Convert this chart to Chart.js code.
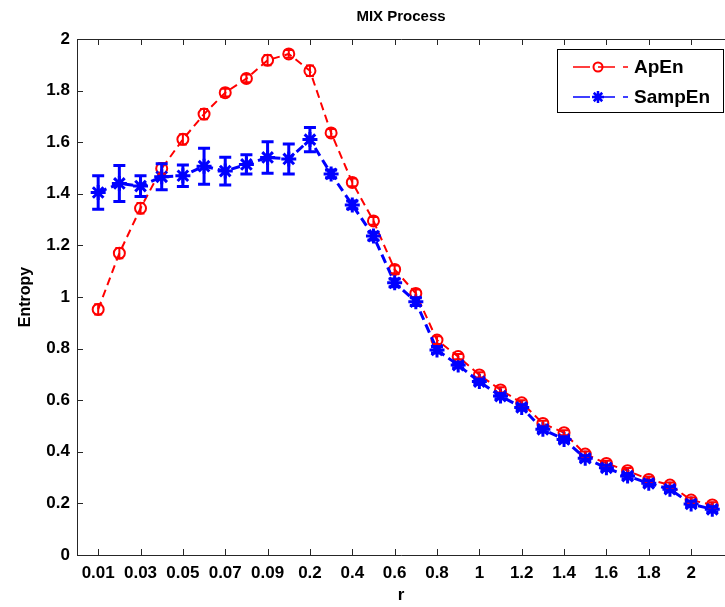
<!DOCTYPE html>
<html>
<head>
<meta charset="utf-8">
<script src="https://cdn.jsdelivr.net/npm/chart.js@4.4.1/dist/chart.umd.min.js"></script>
<style>
  body { margin: 0; background: #fff; }
  canvas { display: block; }
</style>
</head>
<body>
<canvas id="myChart" width="725" height="607"></canvas>
<script>
// ================= Data =================
const categories = ['0.01', '0.02', '0.03', '0.04', '0.05', '0.06', '0.07', '0.08', '0.09', '0.1',
  '0.2', '0.3', '0.4', '0.5', '0.6', '0.7', '0.8', '0.9', '1', '1.1',
  '1.2', '1.3', '1.4', '1.5', '1.6', '1.7', '1.8', '1.9', '2', '2.1'];
const tickIndex = [0, 2, 4, 6, 8, 10, 12, 14, 16, 18, 20, 22, 24, 26, 28];

const apen = [0.952, 1.17, 1.344, 1.498, 1.611, 1.709, 1.792, 1.847, 1.918, 1.942,
  1.877, 1.636, 1.444, 1.295, 1.107, 1.014, 0.833, 0.769, 0.698, 0.64,
  0.59, 0.51, 0.474, 0.391, 0.355, 0.327, 0.293, 0.271, 0.213, 0.194];
const apenErr = [0.02, 0.02, 0.02, 0.02, 0.02, 0.02, 0.015, 0.015, 0.02, 0.015,
  0.02, 0.015, 0.015, 0.015, 0.015, 0.015, 0.015, 0.01, 0.01, 0.01,
  0.01, 0.01, 0.01, 0.01, 0.01, 0.01, 0.01, 0.01, 0.01, 0.01];

const sampen = [1.405, 1.44, 1.43, 1.466, 1.47, 1.507, 1.488, 1.514, 1.541, 1.535,
  1.61, 1.477, 1.357, 1.236, 1.055, 0.982, 0.795, 0.736, 0.672, 0.616,
  0.572, 0.487, 0.448, 0.375, 0.338, 0.306, 0.278, 0.255, 0.198, 0.177];
const sampenErr = [0.065, 0.07, 0.04, 0.05, 0.042, 0.07, 0.054, 0.037, 0.061, 0.058,
  0.047, 0.015, 0.015, 0.015, 0.015, 0.015, 0.012, 0.01, 0.01, 0.01,
  0.01, 0.01, 0.01, 0.01, 0.01, 0.01, 0.01, 0.01, 0.01, 0.01];

const toPoints = arr => arr.map((v, i) => ({ x: i, y: v }));

const FONT = '"Liberation Sans", Arial, sans-serif';
const AXIS = '#262626';

// ================= Extras (frame, ticks, error bars, title, legend) =================
const matlabPlugin = {
  id: 'matlab',
  afterDatasetsDraw(chart) {
    const c = chart.ctx;
    const ys = chart.scales.y;
    const errs = [apenErr, sampenErr];
    c.save();
    chart.data.datasets.forEach((ds, di) => {
      const meta = chart.getDatasetMeta(di);
      c.strokeStyle = ds.borderColor;
      c.lineWidth = di === 0 ? 2 : 3;
      c.setLineDash([]);
      const cap = di === 0 ? 4 : 6;
      meta.data.forEach((pt, i) => {
        const v = ds.data[i].y, e = errs[di][i];
        const x = pt.x;
        const y1 = ys.getPixelForValue(v - e), y2 = ys.getPixelForValue(v + e);
        c.beginPath();
        c.moveTo(x, y1); c.lineTo(x, y2);
        c.moveTo(x - cap, y1); c.lineTo(x + cap, y1);
        c.moveTo(x - cap, y2); c.lineTo(x + cap, y2);
        c.stroke();
      });
    });
    c.restore();
  },
  afterDraw(chart) {
    const c = chart.ctx;
    const a = chart.chartArea;
    const xs = chart.scales.x, ys = chart.scales.y;
    c.save();
    c.strokeStyle = AXIS;
    c.lineWidth = 1;
    c.setLineDash([]);
    // frame
    c.beginPath();
    c.moveTo(a.left + 0.5, a.top + 0.5);
    c.lineTo(a.right, a.top + 0.5);
    c.moveTo(a.left + 0.5, a.top);
    c.lineTo(a.left + 0.5, a.bottom + 0.5);
    c.lineTo(a.right, a.bottom + 0.5);
    c.stroke();
    // inward ticks
    c.beginPath();
    xs.ticks.forEach(t => {
      const x = Math.round(xs.getPixelForValue(t.value)) + 0.5;
      c.moveTo(x, a.bottom); c.lineTo(x, a.bottom - 6);
      c.moveTo(x, a.top); c.lineTo(x, a.top + 6);
    });
    ys.ticks.forEach(t => {
      const y = Math.round(ys.getPixelForValue(t.value)) + 0.5;
      c.moveTo(a.left, y); c.lineTo(a.left + 6, y);
    });
    c.stroke();

    // title
    c.fillStyle = '#000';
    c.font = 'bold 15px ' + FONT;
    c.textAlign = 'center';
    c.textBaseline = 'middle';
    c.fillText('MIX Process', (a.left + a.right) / 2, 17);

    // legend
    const bx = 557, by = 49, bw = 166, bh = 63;
    c.fillStyle = '#fff';
    c.fillRect(bx, by, bw, bh);
    c.strokeStyle = '#000';
    c.strokeRect(bx + 0.5, by + 0.5, bw, bh);
    chart.data.datasets.forEach((ds, di) => {
      const y = by + 18 + di * 30;
      c.strokeStyle = ds.borderColor;
      c.lineWidth = 1.5;
      c.setLineDash([17, 8]);
      c.beginPath();
      c.moveTo(573, y); c.lineTo(628, y);
      c.stroke();
      c.setLineDash([]);
      c.lineWidth = di === 0 ? 2 : 2.5;
      c.beginPath();
      if (di === 0) {
        c.arc(598, y, 4.5, 0, Math.PI * 2);
      } else {
        const r = 6;
        for (let k = 0; k < 4; k++) {
          const ang = k * Math.PI / 4;
          c.moveTo(598 - r * Math.cos(ang), y - r * Math.sin(ang));
          c.lineTo(598 + r * Math.cos(ang), y + r * Math.sin(ang));
        }
      }
      c.stroke();
      c.fillStyle = '#000';
      c.font = 'bold 19px ' + FONT;
      c.textAlign = 'left';
      c.fillText(ds.label, 634, y + 1);
    });
    c.restore();
  }
};

// ================= Chart =================
const ctx = document.getElementById('myChart');

new Chart(ctx, {
  type: 'line',
  data: {
    datasets: [{
      label: 'ApEn',
      data: toPoints(apen),
      borderColor: '#ff0000',
      borderWidth: 2,
      borderDash: [8, 5],
      pointStyle: 'circle',
      pointRadius: 5.5,
      pointBorderWidth: 2,
      pointBorderColor: '#ff0000',
      pointBackgroundColor: 'rgba(0,0,0,0)',
      order: 1
    }, {
      label: 'SampEn',
      data: toPoints(sampen),
      borderColor: '#0000ff',
      borderWidth: 3,
      borderDash: [9, 5],
      pointStyle: 'star',
      pointRadius: 7.5,
      pointBorderWidth: 3,
      pointBorderColor: '#0000ff',
      pointBackgroundColor: '#0000ff',
      order: 0
    }]
  },
  options: {
    responsive: false,
    animation: false,
    devicePixelRatio: 1,
    layout: { padding: { top: 39, left: 0, right: 0, bottom: 0 }, autoPadding: false },
    plugins: {
      legend: { display: false },
      title: { display: false },
      tooltip: { enabled: false }
    },
    scales: {
      x: {
        type: 'linear',
        min: -1,
        max: 29.6,
        afterBuildTicks: scale => { scale.ticks = tickIndex.map(v => ({ value: v })); },
        afterFit: scale => { scale.height = 52; },
        border: { display: false },
        grid: { display: false, drawTicks: false },
        ticks: {
          autoSkip: false,
          maxRotation: 0,
          padding: 8,
          color: '#000',
          font: { family: FONT, size: 17, weight: 'bold' },
          callback: v => categories[v]
        },
        title: {
          display: true,
          text: 'r',
          color: '#000',
          font: { family: FONT, size: 17, weight: 'bold' },
          padding: { top: 0, bottom: 1 }
        }
      },
      y: {
        min: 0,
        max: 2,
        afterFit: scale => { scale.width = 77; },
        border: { display: false },
        grid: { display: false, drawTicks: false },
        ticks: {
          stepSize: 0.2,
          padding: 7,
          color: '#000',
          font: { family: FONT, size: 17, weight: 'bold' },
          callback: v => String(+v.toFixed(1))
        },
        title: {
          display: true,
          text: 'Entropy',
          color: '#000',
          font: { family: FONT, size: 16, weight: 'bold' },
          padding: { top: 16, bottom: 0 }
        }
      }
    }
  },
  plugins: [matlabPlugin]
});
</script>
</body>
</html>
